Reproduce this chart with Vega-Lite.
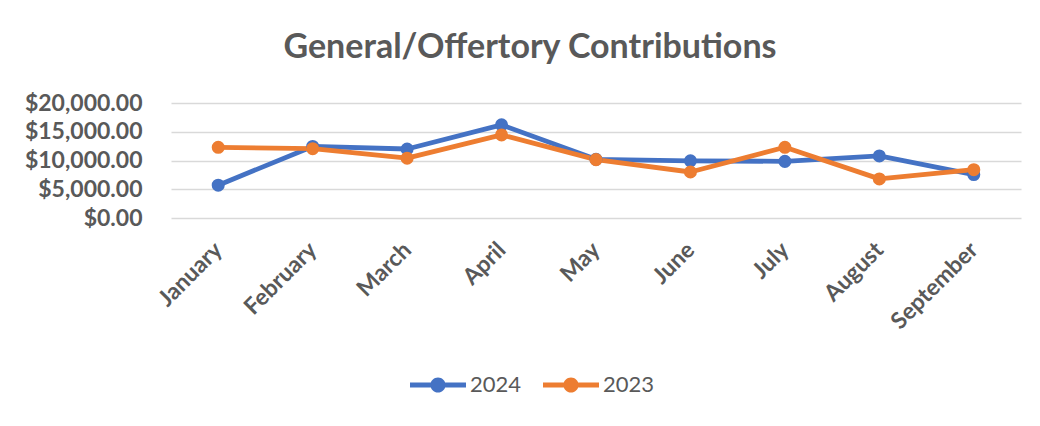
{
  "$schema": "https://vega.github.io/schema/vega-lite/v6.json",
  "autosize": {"type": "none"},
  "width": 850,
  "height": 115,
  "padding": {"left": 171, "top": 103, "right": 19, "bottom": 208},
  "background": "white",
  "title": {
    "text": "General/Offertory Contributions",
    "font": "Lato",
    "fontSize": 34,
    "fontWeight": "bold",
    "color": "#595959",
    "anchor": "middle",
    "dx": -66,
    "baseline": "alphabetic",
    "offset": 0
  },
  "data": {
    "values": [
      {"month": "January", "year": "2024", "amount": 5700},
      {"month": "February", "year": "2024", "amount": 12450},
      {"month": "March", "year": "2024", "amount": 12000},
      {"month": "April", "year": "2024", "amount": 16200},
      {"month": "May", "year": "2024", "amount": 10200},
      {"month": "June", "year": "2024", "amount": 9950},
      {"month": "July", "year": "2024", "amount": 9850},
      {"month": "August", "year": "2024", "amount": 10800},
      {"month": "September", "year": "2024", "amount": 7550},
      {"month": "January", "year": "2023", "amount": 12300},
      {"month": "February", "year": "2023", "amount": 12050},
      {"month": "March", "year": "2023", "amount": 10400},
      {"month": "April", "year": "2023", "amount": 14450},
      {"month": "May", "year": "2023", "amount": 10150},
      {"month": "June", "year": "2023", "amount": 8000},
      {"month": "July", "year": "2023", "amount": 12300},
      {"month": "August", "year": "2023", "amount": 6800},
      {"month": "September", "year": "2023", "amount": 8400}
    ]
  },
  "mark": {
    "type": "line",
    "strokeWidth": 4.8,
    "strokeCap": "round",
    "strokeJoin": "round",
    "point": {"filled": true, "size": 170, "opacity": 1}
  },
  "encoding": {
    "x": {
      "field": "month",
      "type": "ordinal",
      "sort": ["January", "February", "March", "April", "May", "June", "July", "August", "September"],
      "scale": {"type": "point", "padding": 0.5},
      "axis": {
        "title": null,
        "labelAngle": -45,
        "labelAlign": "right",
        "labelBaseline": "middle",
        "labelPadding": 28,
        "labelFont": "Lato",
        "labelFontSize": 23,
        "labelFontWeight": "bold",
        "labelColor": "#595959",
        "domain": false,
        "ticks": false,
        "grid": false
      }
    },
    "y": {
      "field": "amount",
      "type": "quantitative",
      "scale": {"domain": [0, 20000], "nice": false, "zero": true},
      "axis": {
        "title": null,
        "values": [0, 5000, 10000, 15000, 20000],
        "format": "$,.2f",
        "labelFont": "Lato",
        "labelFontSize": 23,
        "labelFontWeight": "bold",
        "labelColor": "#595959",
        "labelPadding": 29,
        "domain": false,
        "ticks": false,
        "grid": true,
        "gridColor": "#D9D9D9",
        "gridWidth": 1.4
      }
    },
    "color": {
      "field": "year",
      "type": "nominal",
      "sort": ["2024", "2023"],
      "scale": {"domain": ["2024", "2023"], "range": ["#4472C4", "#ED7D31"]},
      "legend": {
        "title": null,
        "orient": "none",
        "direction": "horizontal",
        "legendX": 239,
        "legendY": 254,
        "padding": 0,
        "symbolType": "M-1,-0.09H1V0.09H-1Z M0.27,0A0.27,0.27 0 1,1 -0.27,0A0.27,0.27 0 1,1 0.27,0Z",
        "symbolSize": 3136,
        "symbolStrokeWidth": 0,
        "labelOffset": 4,
        "columnPadding": 21,
        "labelFont": "Lato",
        "labelFontSize": 22,
        "labelColor": "#595959",
        "encode": {
          "symbols": {
            "update": {
              "fill": {"scale": "color", "field": "value"},
              "stroke": {"value": "transparent"},
              "strokeWidth": {"value": 0},
              "opacity": {"value": 1}
            }
          }
        }
      }
    }
  },
  "config": {
    "view": {"stroke": null}
  }
}
